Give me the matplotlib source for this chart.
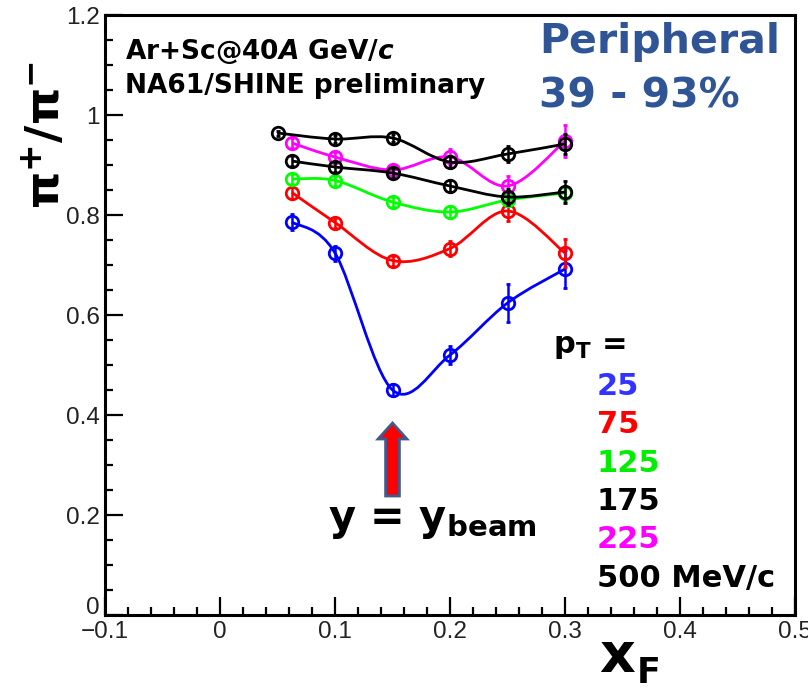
import numpy as np
import matplotlib
matplotlib.use("Agg")
import matplotlib.pyplot as plt
import matplotlib.transforms as mtransforms
from matplotlib.path import Path
from matplotlib.patches import PathPatch, FancyArrow

plt.rcParams["mathtext.fontset"] = "dejavusans"
plt.rcParams["mathtext.default"] = "bf"
plt.rcParams["font.family"] = ["DejaVu Sans"]

# x_F bins
xf = [0.0625, 0.1, 0.15, 0.2, 0.25, 0.3]
xf_500 = [0.05, 0.1, 0.15, 0.2, 0.25, 0.3]

# pi+/pi- ratio per p_T bin
r25 = [0.786, 0.724, 0.450, 0.520, 0.624, 0.692]
e25 = [0.016, 0.015, 0.012, 0.018, 0.038, 0.038]
r75 = [0.845, 0.785, 0.709, 0.733, 0.808, 0.724]
e75 = [0.012, 0.010, 0.010, 0.015, 0.020, 0.028]
r125 = [0.872, 0.869, 0.826, 0.806, 0.830, 0.844]
e125 = [0.010, 0.010, 0.010, 0.012, 0.012, 0.015]
r175 = [0.908, 0.896, 0.884, 0.858, 0.836, 0.846]
e175 = [0.010, 0.010, 0.010, 0.012, 0.016, 0.022]
r225 = [0.944, 0.916, 0.890, 0.916, 0.858, 0.948]
e225 = [0.010, 0.010, 0.010, 0.016, 0.020, 0.032]
r500 = [0.964, 0.952, 0.954, 0.906, 0.922, 0.942]
e500 = [0.005, 0.008, 0.008, 0.012, 0.016, 0.020]

pt_labels = ["25", "75", "125", "175", "225", "500 MeV/c"]
pt_colors = ["#3333ff", "#ff0000", "#00ee00", "#000000", "#ff00ff", "#000000"]
line_colors = ["#0000ff", "#ff0000", "#00ff00", "#000000", "#ff00ff", "#000000"]

x_ticks = [-0.1, 0, 0.1, 0.2, 0.3, 0.4, 0.5]
x_ticklabels = ["\u22120.1", "0", "0.1", "0.2", "0.3", "0.4", "0.5"]
y_ticks = [0, 0.2, 0.4, 0.6, 0.8, 1.0, 1.2]
y_ticklabels = ["0", "0.2", "0.4", "0.6", "0.8", "1", "1.2"]

beam_xf = 0.15


def smooth_path(xs, ys):
    # Catmull-Rom curve through the points, as cubic Bezier segments
    pts = np.column_stack([xs, ys])
    ext = np.vstack([pts[0], pts, pts[-1]])
    verts = [pts[0]]
    codes = [Path.MOVETO]
    for i in range(len(pts) - 1):
        p0, p1, p2, p3 = ext[i], ext[i + 1], ext[i + 2], ext[i + 3]
        verts += [p1 + (p2 - p0) / 6, p2 - (p3 - p1) / 6, p2]
        codes += [Path.CURVE4] * 3
    return Path(verts, codes)


fig = plt.figure(figsize=(8.08, 6.92), dpi=100)
W, H = 808, 692
ax = fig.add_axes([105 / W, 77 / H, 690 / W, 600 / H])

series = [
    (xf, r25, e25, line_colors[0]),
    (xf, r75, e75, line_colors[1]),
    (xf, r125, e125, line_colors[2]),
    (xf, r225, e225, line_colors[4]),
    (xf, r175, e175, line_colors[3]),
    (xf_500, r500, e500, line_colors[5]),
]
for k, (xs, ys, es, c) in enumerate(series):
    ax.add_patch(PathPatch(smooth_path(xs, ys), fc="none", ec=c, lw=2.0,
                           zorder=2 + k))
    ax.errorbar(xs, ys, yerr=es, fmt="o", ms=9, mfc="none", mec=c, mew=2.0,
                ecolor=c, elinewidth=1.8, capsize=1.5, capthick=1.8,
                zorder=2.5 + k)

ax.set_xlim(-0.1, 0.5)
ax.set_ylim(0, 1.2)
ax.set_xticks(x_ticks)
ax.set_xticklabels(x_ticklabels)
ax.set_yticks(y_ticks)
ax.set_yticklabels(y_ticklabels)
ax.set_xticks(np.arange(-0.1, 0.5001, 0.02), minor=True)
ax.set_yticks(np.arange(0, 1.2001, 0.05), minor=True)
for lab in ax.get_xticklabels() + ax.get_yticklabels():
    lab.set_fontfamily(["Liberation Sans Narrow", "Liberation Sans"])
    lab.set_fontsize(17.5)
    lab.set_color("#222222")
ax.tick_params(which="both", direction="in", width=1.6, top=False, right=False)
ax.tick_params(which="major", length=13, pad=4)
ax.tick_params(which="minor", length=6)
for sp in ax.spines.values():
    sp.set_linewidth(2.2)

# lift the y "0" label clear of the x axis labels
zero_lab = ax.get_yticklabels()[0]
zero_lab.set_transform(zero_lab.get_transform() +
                       mtransforms.ScaledTranslation(0, 10 / 100, fig.dpi_scale_trans))

# beam rapidity marker
ax.add_patch(FancyArrow(beam_xf, 0.238, 0, 0.146, width=0.012, head_width=0.025,
                        head_length=0.032, length_includes_head=True,
                        fc="#ff0000", ec="#41598f", lw=2.0, zorder=10))
ax.text(0.323, 0.142, r"y = y$_{beam}$", transform=ax.transAxes,
        fontsize=30, fontweight="bold", va="baseline", ha="left")

# labels on the plot
ax.text(0.029, 0.927, r"Ar+Sc@40$\boldsymbol{A}$ GeV/$\boldsymbol{c}$",
        transform=ax.transAxes, fontsize=19, fontweight="bold", va="baseline")
ax.text(0.029, 0.870, "NA61/SHINE preliminary", transform=ax.transAxes,
        fontsize=19, fontweight="bold", va="baseline")
ax.text(0.629, 0.937, "Peripheral", transform=ax.transAxes, fontsize=29.5,
        fontweight="bold", color="#2f5597", va="baseline")
ax.text(0.629, 0.845, "39 - 93%", transform=ax.transAxes, fontsize=29.5,
        fontweight="bold", color="#2f5597", va="baseline")

# p_T key
ax.text(0.649, 0.437, r"p$_{T}$ =", transform=ax.transAxes,
        fontsize=22, fontweight="bold", va="baseline")
for i, (lab, c) in enumerate(zip(pt_labels, pt_colors)):
    ax.text(0.713, 0.367 - i * 0.064, lab, transform=ax.transAxes,
            fontsize=22, fontweight="bold", color=c, va="baseline")

# axis titles
fig.text(47 / W, 1 - 135 / H, r"$π^{+}/π^{-}$", rotation=90, fontsize=34,
         ha="center", va="center")
fig.text(599 / W, 1 - 672 / H, "x", fontsize=40, fontweight="bold",
         va="baseline", ha="left")
fig.text(637 / W, 1 - 683 / H, "F", fontsize=25, fontweight="bold",
         va="baseline", ha="left")

fig.savefig("out.png", dpi=100)
